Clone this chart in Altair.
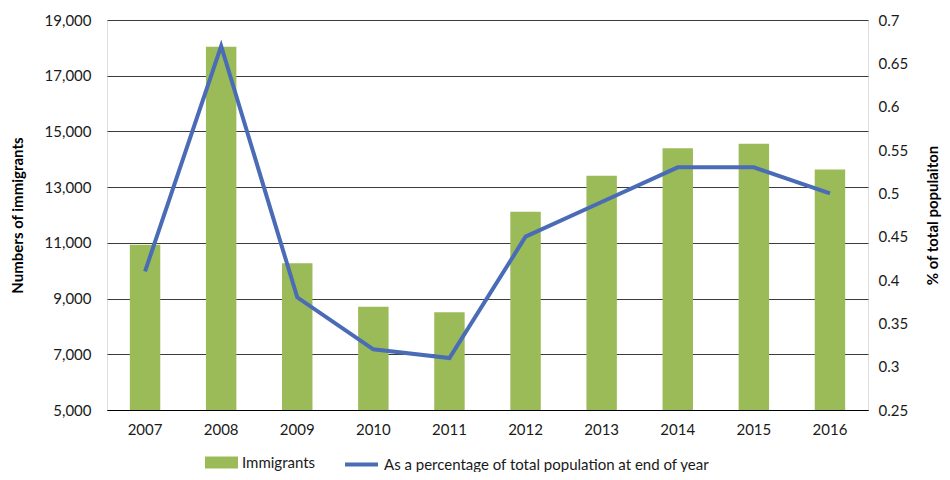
import altair as alt
import pandas as pd

years = ["2007", "2008", "2009", "2010", "2011", "2012", "2013", "2014", "2015", "2016"]
immigrants = [10930, 18040, 10270, 8710, 8510, 12120, 13410, 14400, 14560, 13630]
pct_population = [0.41, 0.67, 0.38, 0.32, 0.31, 0.45, 0.49, 0.53, 0.53, 0.50]
left_ticks = [5000, 7000, 9000, 11000, 13000, 15000, 17000, 19000]
right_ticks = [0.25, 0.3, 0.35, 0.4, 0.45, 0.5, 0.55, 0.6, 0.65, 0.7]
bar_label = "Immigrants"
line_label = "As a percentage of total population at end of year"

df = pd.DataFrame({
    "year": years,
    "immigrants": immigrants,
    "pct": pct_population,
    "bar_series": [bar_label] * len(years),
    "line_series": [line_label] * len(years),
})

FONT = "Lato"

x = alt.X("year:N", sort=years, title=None,
          scale=alt.Scale(paddingInner=0.6, paddingOuter=0.3),
          axis=alt.Axis(labelAngle=0, labelFontSize=15, labelFont=FONT, labelColor="#1a1a1a",
                        ticks=False, domain=True, domainColor="#000000", domainWidth=1,
                        labelPadding=12, grid=False))

bars = alt.Chart(df).mark_bar(color="#9bbb59", clip=True).encode(
    x=x,
    y=alt.Y("immigrants:Q", scale=alt.Scale(domain=[5000, 19000], nice=False, zero=False),
            axis=alt.Axis(values=left_ticks, format=",.0f", title="Numbers of immigrants",
                          titleFont=FONT, titleFontSize=15, titleFontWeight="bold",
                          titleColor="#000000", titleAngle=270, titleX=-90, titleY=195,
                          titleAlign="center", titleBaseline="middle",
                          labelFont=FONT, labelFontSize=15, labelColor="#1a1a1a",
                          labelPadding=16, ticks=False, domain=False,
                          grid=True, gridColor="#3c3c3c", gridWidth=1)),
    fill=alt.Fill("bar_series:N", scale=alt.Scale(domain=[bar_label], range=["#9bbb59"]),
                  legend=alt.Legend(title=None, orient="none", legendX=98, legendY=426,
                                    symbolType="M-1,-0.36H1V0.36H-1Z", symbolSize=1089,
                                    symbolStrokeWidth=0, labelFont=FONT, labelFontSize=15,
                                    labelColor="#1a1a1a", labelOffset=4, padding=0,
                                    labelLimit=0)),
)

line = alt.Chart(df).mark_line(strokeWidth=4).encode(
    x=x,
    y=alt.Y("pct:Q", scale=alt.Scale(domain=[0.25, 0.7], nice=False, zero=False),
            axis=alt.Axis(values=right_ticks, format=".2~f", orient="right",
                          title="% of total populaiton",
                          titleFont=FONT, titleFontSize=15, titleFontWeight="bold",
                          titleColor="#000000", titleAngle=270, titleX=64, titleY=195,
                          titleAlign="center", titleBaseline="middle",
                          labelFont=FONT, labelFontSize=15, labelColor="#1a1a1a",
                          labelPadding=10, ticks=False, domain=False, grid=False)),
    stroke=alt.Stroke("line_series:N", scale=alt.Scale(domain=[line_label], range=["#4a6cb6"]),
                      legend=alt.Legend(title=None, orient="none", legendX=236, legendY=426,
                                        symbolType="stroke", symbolSize=1089, symbolStrokeWidth=4,
                                        labelFont=FONT, labelFontSize=15, labelColor="#1a1a1a",
                                        labelOffset=4, padding=0, labelLimit=0)),
)

chart = alt.layer(bars, line).resolve_scale(y="independent").properties(
    width=761, height=390,
    autosize=alt.AutoSizeParams(type="none"),
    padding={"left": 99, "top": 12, "right": 74, "bottom": 62},
).configure_view(stroke=None).configure(background="#ffffff")

chart.save("out.html", embed_options={"renderer": "svg", "actions": False})
